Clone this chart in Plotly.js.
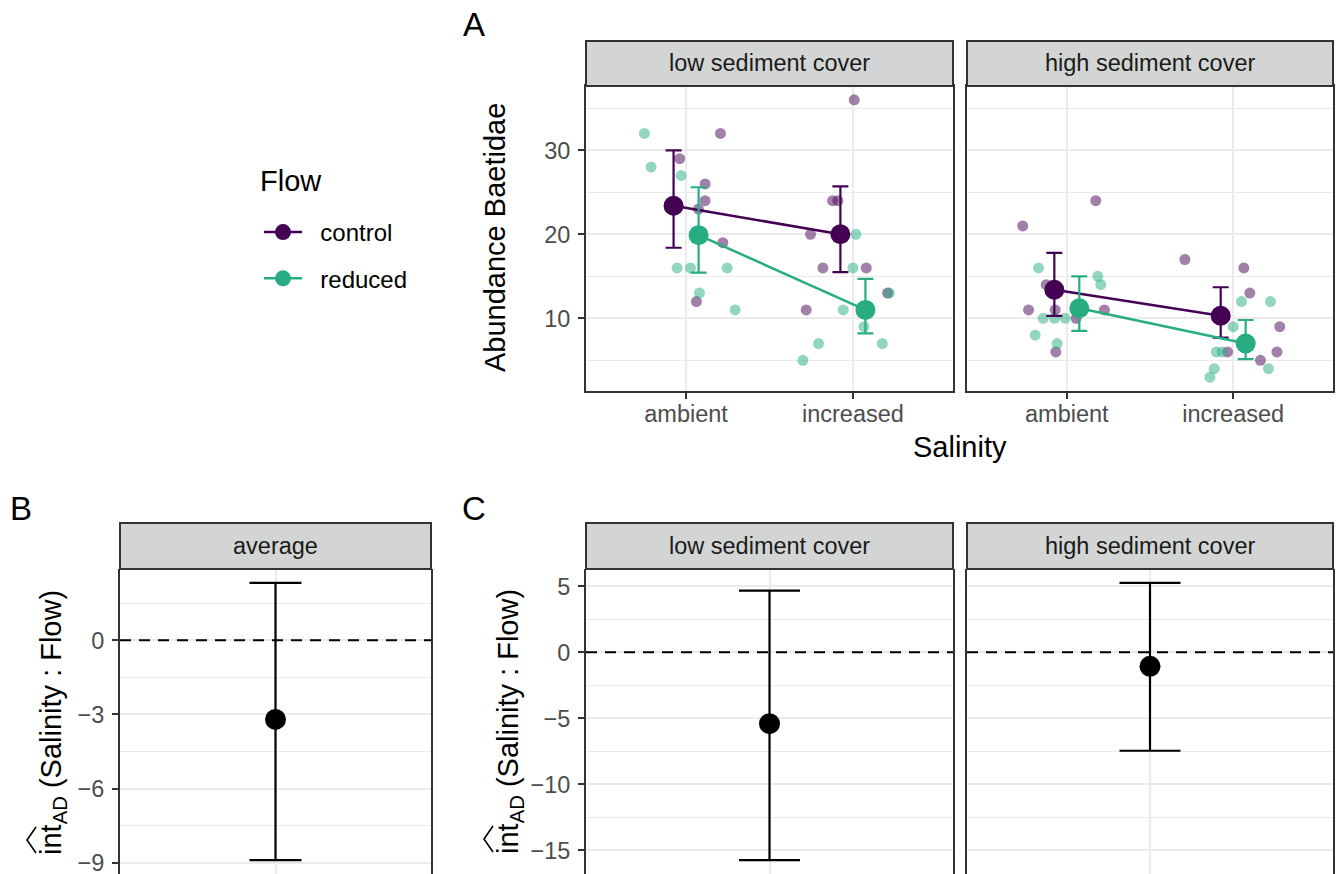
<!DOCTYPE html>
<html>
<head>
<meta charset="utf-8">
<script src="https://cdn.plot.ly/plotly-3.0.1.min.js"></script>
<style>html,body{margin:0;padding:0;background:#fff;}#chart{width:1340px;height:874px;}</style>
</head>
<body>
<div id="chart"></div>
<script>
// ---------------- DATA ----------------
const salinity = ['ambient', 'increased'];
const flowLevels = ['control', 'reduced'];
const sediment = ['low sediment cover', 'high sediment cover'];

// raw abundances (panel A), with horizontal jitter
const lowCtrlAmb = [32, 29, 26, 24, 23, 19, 12];
const lowCtrlAmbJit = [0.206, -0.038, 0.114, 0.114, 0.074, 0.22, 0.062];
const lowCtrlInc = [36, 24, 24, 20, 16, 16, 13, 11];
const lowCtrlIncJit = [0.008, -0.122, -0.09, -0.254, -0.18, 0.08, 0.208, -0.28];
const lowRedAmb = [32, 28, 27, 16, 16, 16, 13, 11];
const lowRedAmbJit = [-0.25, -0.21, -0.03, -0.054, 0.026, 0.246, 0.08, 0.294];
const lowRedInc = [20, 16, 13, 11, 9, 7, 7, 5];
const lowRedIncJit = [0.018, 0.0, 0.218, -0.058, 0.066, -0.206, 0.176, -0.30];

const highCtrlAmb = [21, 24, 14, 11, 11, 11, 10, 6];
const highCtrlAmbJit = [-0.265, 0.174, -0.124, -0.23, -0.07, 0.226, 0.056, -0.066];
const highCtrlInc = [17, 16, 13, 9, 6, 6, 5];
const highCtrlIncJit = [-0.29, 0.064, 0.1, 0.28, -0.034, 0.263, 0.164];
const highRedAmb = [16, 15, 14, 10, 10, 10, 8, 7];
const highRedAmbJit = [-0.17, 0.186, 0.204, -0.142, -0.074, -0.01, -0.19, -0.058];
const highRedInc = [12, 12, 9, 6, 6, 4, 4, 3];
const highRedIncJit = [0.05, 0.224, 0.0, -0.102, -0.066, -0.114, 0.212, -0.14];

// summary estimates (mean and interval) per salinity level
const lowCtrlMean = [23.4, 20.0], lowCtrlLo = [18.4, 15.5], lowCtrlHi = [30.0, 25.7];
const lowRedMean = [19.9, 11.0], lowRedLo = [15.45, 8.2], lowRedHi = [25.6, 14.7];
const highCtrlMean = [13.4, 10.3], highCtrlLo = [10.3, 7.7], highCtrlHi = [17.8, 13.7];
const highRedMean = [11.2, 7.0], highRedLo = [8.5, 5.15], highRedHi = [15.0, 9.8];

// panel B: average interaction
const avgLabel = ['average'];
const avgEst = [-3.2], avgLo = [-8.9], avgHi = [2.33];
// panel C: interaction by sediment cover
const sedEst = [-5.4, -1.06], sedLo = [-15.73, -7.45], sedHi = [4.68, 5.26];

const yTicksA = [10, 20, 30];
const yTicksB = [0, -3, -6, -9];
const yTicksC = [5, 0, -5, -10, -15];

// ---------------- STYLE ----------------
const FONT = 'Liberation Sans, Arial, Helvetica, sans-serif';
const PURPLE = '#440154';
const GREEN = '#27AD81';
const GRID = '#EBEBEB';
const BORDER = '#333333';
const TICKC = '#4D4D4D';
const STRIP = '#D3D5D4';
const dodge = 0.075;
const W = 1340, H = 874;
const px = v => v / W;
const py = v => 1 - v / H;
const NB = '\u00A0\u00A0';

function jx(cat, jit) { return jit.map(j => cat + j); }

const traces = [];
function raw(xa, ya, vals1, jit1, vals2, jit2, color) {
  traces.push({
    x: jx(1, jit1).concat(jx(2, jit2)), y: vals1.concat(vals2),
    xaxis: xa, yaxis: ya, type: 'scatter', mode: 'markers', showlegend: false,
    hoverinfo: 'skip',
    marker: { color: color, size: 11, opacity: 0.5, line: { width: 0 } }
  });
}
raw('x', 'y', lowCtrlAmb, lowCtrlAmbJit, lowCtrlInc, lowCtrlIncJit, PURPLE);
raw('x', 'y', lowRedAmb, lowRedAmbJit, lowRedInc, lowRedIncJit, GREEN);
raw('x2', 'y2', highCtrlAmb, highCtrlAmbJit, highCtrlInc, highCtrlIncJit, PURPLE);
raw('x2', 'y2', highRedAmb, highRedAmbJit, highRedInc, highRedIncJit, GREEN);

function summ(xa, ya, mean, lo, hi, off, color, name, legend) {
  traces.push({
    x: [1 + off, 2 + off], y: mean, xaxis: xa, yaxis: ya,
    type: 'scatter', mode: 'lines+markers', name: NB + name, showlegend: legend,
    legendgroup: name,
    line: { color: color, width: 2.5 },
    marker: { color: color, size: 20 },
    error_y: { type: 'data', symmetric: false,
      array: hi.map((h, i) => h - mean[i]), arrayminus: mean.map((m, i) => m - lo[i]),
      color: color, thickness: 2.2, width: 8 }
  });
}
summ('x', 'y', lowCtrlMean, lowCtrlLo, lowCtrlHi, -dodge, PURPLE, flowLevels[0], true);
summ('x', 'y', lowRedMean, lowRedLo, lowRedHi, dodge, GREEN, flowLevels[1], true);
summ('x2', 'y2', highCtrlMean, highCtrlLo, highCtrlHi, -dodge, PURPLE, flowLevels[0], false);
summ('x2', 'y2', highRedMean, highRedLo, highRedHi, dodge, GREEN, flowLevels[1], false);

function est(xa, ya, e, lo, hi, capw) {
  traces.push({
    x: [1], y: [e], xaxis: xa, yaxis: ya, type: 'scatter', mode: 'markers',
    showlegend: false, marker: { color: '#000', size: 21 },
    error_y: { type: 'data', symmetric: false, array: [hi - e], arrayminus: [e - lo],
      color: '#000', thickness: 2.2, width: capw }
  });
}
est('x3', 'y3', avgEst[0], avgLo[0], avgHi[0], 26);
est('x4', 'y4', sedEst[0], sedLo[0], sedHi[0], 30.5);
est('x5', 'y5', sedEst[1], sedLo[1], sedHi[1], 30.5);

// ---------------- AXES ----------------
const axBase = {
  showline: true, mirror: true, linecolor: BORDER, linewidth: 2,
  showgrid: true, gridcolor: GRID, gridwidth: 2, zeroline: false,
  tickfont: { family: FONT, size: 23.5, color: TICKC },
  tickcolor: BORDER, tickwidth: 2, ticklen: 6, fixedrange: true,
  ticklabeloverflow: 'allow'
};
function xCat(domain, anchor, showTicks) {
  return Object.assign({}, axBase, {
    domain: domain, anchor: anchor, range: [0.4, 2.6],
    tickmode: 'array', tickvals: [1, 2], ticktext: salinity,
    ticks: showTicks ? 'outside' : '', showticklabels: showTicks,
    ticklabelstandoff: -5
  });
}
function yLin(domain, anchor, range, tickvals, minorD, showTicks) {
  return Object.assign({}, axBase, {
    domain: domain, anchor: anchor, range: range,
    tickmode: 'array', tickvals: tickvals,
    ticks: showTicks ? 'outside' : '', showticklabels: showTicks,
    ticklabelstandoff: 3,
    minor: { tickmode: 'linear', tick0: 0, dtick: minorD, showgrid: true, gridcolor: GRID, gridwidth: 1, ticks: '' }
  });
}

const dAy = [py(391), py(86)];
const dBy = [0, py(569)];
const dXL = [px(586), px(953)];
const dXR = [px(967), px(1333)];
const dXB = [px(120), px(431)];

const layout = {
  width: W, height: H, margin: { l: 0, r: 0, t: 0, b: 0 },
  paper_bgcolor: '#fff', plot_bgcolor: '#fff',
  font: { family: FONT, color: '#000' },
  showlegend: true,
  legend: {
    x: px(259), y: py(210), xanchor: 'left', yanchor: 'top',
    bgcolor: 'rgba(0,0,0,0)', borderwidth: 0,
    font: { family: FONT, size: 24, color: '#000' },
    itemwidth: 38,
    tracegroupgap: 12, itemclick: false, itemdoubleclick: false
  },
  xaxis: xCat(dXL, 'y', true),
  yaxis: yLin(dAy, 'x', [1.35, 37.65], yTicksA, 5, true),
  xaxis2: xCat(dXR, 'y2', true),
  yaxis2: yLin(dAy, 'x2', [1.35, 37.65], yTicksA, 5, false),
  xaxis3: Object.assign({}, axBase, { domain: dXB, anchor: 'y3', range: [0.4, 1.6], tickmode: 'array', tickvals: [1], ticktext: avgLabel, ticks: '', showticklabels: false, showline: false }),
  yaxis3: yLin(dBy, 'x3', [-9.46, 2.89], yTicksB, 1.5, true),
  xaxis4: Object.assign({}, axBase, { domain: dXL, anchor: 'y4', range: [0.4, 1.6], tickmode: 'array', tickvals: [1], ticktext: [sediment[0]], ticks: '', showticklabels: false, showline: false }),
  yaxis4: yLin(dBy, 'x4', [-16.78, 6.31], yTicksC, 2.5, true),
  xaxis5: Object.assign({}, axBase, { domain: dXR, anchor: 'y5', range: [0.4, 1.6], tickmode: 'array', tickvals: [1], ticktext: [sediment[1]], ticks: '', showticklabels: false, showline: false }),
  yaxis5: yLin(dBy, 'x5', [-16.78, 6.31], yTicksC, 2.5, false),
  shapes: [],
  annotations: []
};

// strips
function strip(x0, x1, y0, y1, label) {
  layout.shapes.push({ type: 'rect', xref: 'paper', yref: 'paper', x0: px(x0), x1: px(x1), y0: py(y1), y1: py(y0),
    fillcolor: STRIP, line: { color: BORDER, width: 2 }, layer: 'above' });
  layout.annotations.push({ xref: 'paper', yref: 'paper', x: px((x0 + x1) / 2), y: py((y0 + y1) / 2),
    text: label, showarrow: false, xanchor: 'center', yanchor: 'middle',
    font: { family: FONT, size: 23.5, color: '#1A1A1A' } });
}
strip(586, 953, 41, 86, sediment[0]);
strip(967, 1333, 41, 86, sediment[1]);
strip(120, 431, 523, 569, avgLabel[0]);
strip(586, 953, 523, 569, sediment[0]);
strip(967, 1333, 523, 569, sediment[1]);

// zero reference lines
['3', '4', '5'].forEach(k => {
  layout.shapes.push({ type: 'line', xref: 'x' + k + ' domain', yref: 'y' + k, x0: 0, x1: 1, y0: 0, y1: 0,
    line: { color: '#000', width: 2, dash: '11px,8px' }, layer: 'above' });
});

// titles
function ann(x, y, text, size, angle, anchor) {
  layout.annotations.push({ xref: 'paper', yref: 'paper', x: px(x), y: py(y), text: text, showarrow: false,
    xanchor: anchor || 'center', yanchor: 'middle', textangle: angle || 0,
    font: { family: FONT, size: size, color: '#000' } });
}
ann(960, 447, 'Salinity', 29);
ann(495, 238, 'Abundance Baetidae', 29, -90);
const intTitle = 'int<sub>AD</sub> (Salinity : Flow)';
ann(53, 723, intTitle, 29, -90);
ann(510, 722, intTitle, 29, -90);
ann(258, 181, 'Flow', 29, 0, 'left');
ann(474, 24, 'A', 33);
ann(21, 508, 'B', 33);
ann(474, 508, 'C', 33);

// hats over "int"
function hat(xl, yc) {
  layout.shapes.push({ type: 'path', xref: 'paper', yref: 'paper',
    path: 'M ' + px(xl + 9) + ' ' + py(yc - 13) + ' L ' + px(xl) + ' ' + py(yc) + ' L ' + px(xl + 9) + ' ' + py(yc + 13),
    line: { color: '#000', width: 1.6 }, layer: 'above' });
}
hat(27, 840);
hat(484, 839);

Plotly.newPlot('chart', traces, layout, { displayModeBar: false, staticPlot: true });
</script>
</body>
</html>
